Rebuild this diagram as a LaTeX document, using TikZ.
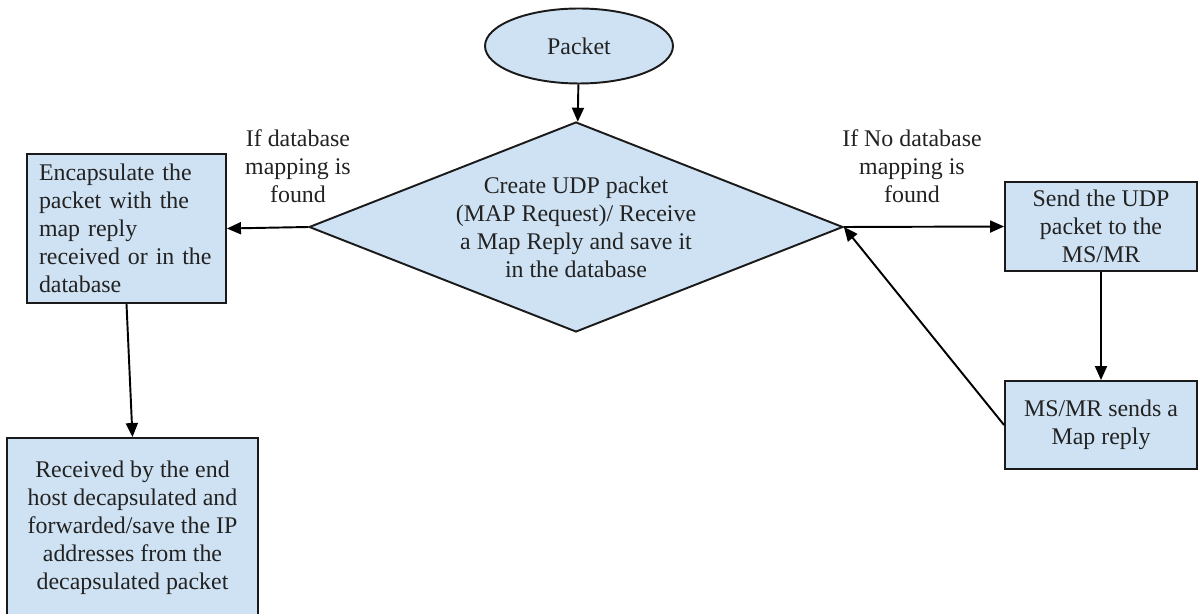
\documentclass[tikz,border=0pt]{standalone}
\usepackage{fontspec}
\setmainfont{Liberation Serif}
\usepackage{tikz}
\usetikzlibrary{arrows.meta,positioning,shapes.geometric}
\definecolor{boxfill}{RGB}{207,226,243}
\definecolor{edgecol}{RGB}{26,26,26}
\definecolor{txtcol}{RGB}{34,34,34}

\begin{document}
\begin{tikzpicture}[x=0.02cm, y=-0.02cm,
  box/.style={draw=edgecol, fill=boxfill, line width=1.1pt, text=txtcol,
              font=\fontsize{13.6}{16}\selectfont, align=center, inner sep=0pt},
  term/.style={box, ellipse, minimum width=3.76cm, minimum height=1.5cm},
  decide/.style={box, diamond, aspect=2.54, minimum width=10.68cm, minimum height=4.2cm},
  lbl/.style={text=txtcol, font=\fontsize{13.6}{16}\selectfont, align=center, inner sep=0pt},
  arr/.style={-{Triangle[length=2.8mm, width=2.4mm]}, line width=1.1pt, draw=black}]
  \useasboundingbox (0,0) rectangle (1199,614);
  \node[term] (pkt) at (579,46) {Packet};
  \node[decide] (dec) at (576,227) {Create UDP packet\\(MAP Request)/ Receive\\a Map Reply and save it\\in the database};
  \node[box, minimum width=3.98cm, minimum height=2.98cm, text width=3.5cm, align=left] (enc) at (126.5,228.5)
    {Encapsulate the\\packet with the\\map reply\\received or in the\\database};
  \node[box, minimum width=5.02cm, minimum height=3.6cm] (recv) at (132.5,528)
    {Received by the end\\host decapsulated and\\forwarded/save the IP\\addresses from the\\decapsulated packet};
  \node[box, minimum width=3.84cm, minimum height=1.78cm] (send) at (1101,226.5) {Send the UDP\\packet to the\\MS/MR};
  \node[box, minimum width=3.84cm, minimum height=1.76cm] (reply) at (1101,425) {MS/MR sends a\\Map reply};
  \node[lbl] (found) at (298,166) {If database\\mapping is\\found};
  \node[lbl] (nofound) at (912,166) {If No database\\mapping is\\found};
  \draw[arr] (pkt) -- (dec);
  \draw[arr] (dec.west) -- (enc.east);
  \draw[arr] (dec.east) -- (send.west);
  \draw[arr] (send) -- (reply);
  \draw[arr] (reply.west) -- (dec.east);
  \draw[arr] (enc.south) -- (recv.north);
\end{tikzpicture}
\end{document}
